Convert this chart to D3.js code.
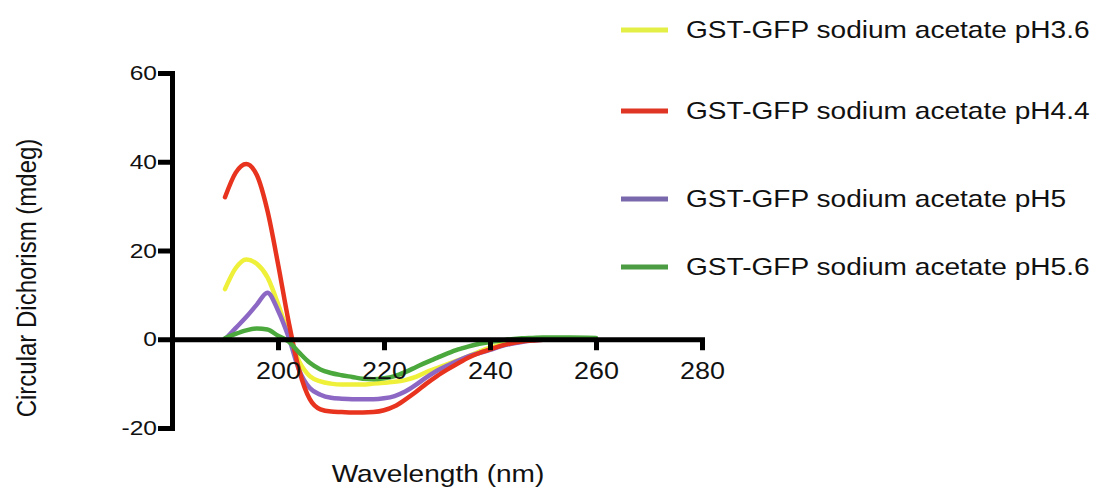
<!DOCTYPE html>
<html>
<head>
<meta charset="utf-8">
<script src="https://cdn.jsdelivr.net/npm/d3@7"></script>
<style>
  body { margin: 0; background: #fff; }
  text { font-family: "Liberation Sans", Arial, sans-serif; fill: #111; }
</style>
</head>
<body>
<div id="chart"></div>
<script>
// Wavelength samples (nm)
const wavelengths = [190, 192, 194, 196, 198, 200, 202, 204, 206, 208, 210, 212, 214, 216, 218, 220,
  222, 224, 226, 228, 230, 232, 234, 236, 238, 240, 242, 244, 246, 248, 250, 255, 260];

// CD values (mdeg)
const ph36 = [11.3, 16, 18, 17, 14, 8, 1, -5, -8.3, -9.5, -10, -10.2, -10.2, -10.2, -10, -9.8,
  -9.6, -9.2, -8.5, -7.4, -6.5, -5.6, -4.7, -3.8, -2.8, -1.9, -1.2, -0.7, -0.4, -0.2, 0, 0.1, 0.1];
const ph44 = [32, 37.5, 39.5, 37, 29, 17, 4, -7, -13.5, -15.8, -16.3, -16.4, -16.5, -16.5, -16.4, -16,
  -15.1, -13.6, -11.9, -10, -8.3, -6.8, -5.4, -4.1, -3.1, -2.3, -1.5, -0.9, -0.5, -0.3, -0.1, 0, 0.1];
const ph50 = [0, 2.5, 5, 7.8, 10.5, 6.5, 0.5, -7, -11, -12.5, -13.2, -13.4, -13.5, -13.5, -13.5, -13.3,
  -12.8, -11.8, -10.3, -8.6, -7.1, -5.9, -4.8, -3.8, -3.1, -2.4, -1.6, -1, -0.6, -0.3, -0.1, 0, 0.1];
const ph56 = [0.2, 1.2, 2, 2.4, 2.2, 0.8, -0.5, -3, -5.3, -6.8, -7.6, -8.1, -8.5, -8.9, -9, -8.8,
  -8.3, -7.4, -6.3, -5.2, -4.2, -3.2, -2.3, -1.6, -1, -0.6, -0.3, 0, 0.2, 0.3, 0.4, 0.4, 0.3];

const seriesNames = ["GST-GFP sodium acetate pH3.6", "GST-GFP sodium acetate pH4.4",
  "GST-GFP sodium acetate pH5", "GST-GFP sodium acetate pH5.6"];
const seriesValues = [ph36, ph44, ph50, ph56];
const xTicks = [200, 220, 240, 260, 280];
const yTicks = [-20, 0, 20, 40, 60];

const lineColors = ["#eef03a", "#e8341f", "#8c68c4", "#4aa83c"];
const legendColors = ["#e4ef45", "#df3524", "#7a68ac", "#4b9c42"];
const legendY = [30, 111, 199, 267];

const width = 1101, height = 489;
const stretch = 1.17; // glyphs in the picture are a bit wide

const svg = d3.select("#chart").append("svg")
  .attr("width", width)
  .attr("height", height);

const x = d3.scaleLinear().domain([180, 280]).range([172, 702]);
const y = d3.scaleLinear().domain([-20, 60]).range([428, 73]);

// Curves first so the axes sit on top like in the original
const line = d3.line()
  .x(d => x(d[0]))
  .y(d => y(d[1]))
  .curve(d3.curveMonotoneX);

const drawOrder = [0, 2, 1, 3];
drawOrder.forEach(i => {
  svg.append("path")
    .datum(wavelengths.map((w, j) => [w, seriesValues[i][j]]))
    .attr("fill", "none")
    .attr("stroke", lineColors[i])
    .attr("stroke-width", 4.5)
    .attr("stroke-linejoin", "round")
    .attr("stroke-linecap", "round")
    .attr("d", line);
});

// X axis through y = 0
const gx = svg.append("g")
  .attr("transform", "translate(0," + y(0) + ")")
  .call(d3.axisBottom(x).tickValues(xTicks).tickSize(11).tickSizeOuter(0).tickPadding(12)
    .tickFormat(d => String(d)));

// Y axis
const gy = svg.append("g")
  .attr("transform", "translate(" + x(180) + ",0)")
  .call(d3.axisLeft(y).tickValues(yTicks).tickSize(14).tickSizeOuter(0).tickPadding(1)
    .tickFormat(d => String(d)));

[gx, gy].forEach(g => {
  g.select(".domain").attr("stroke", "#000").attr("stroke-width", 5).attr("stroke-linecap", "square");
  g.selectAll(".tick line").attr("stroke", "#000").attr("stroke-width", 5);
  g.selectAll(".tick text").attr("fill", "#111").style("font-family", "Liberation Sans, Arial, sans-serif");
});

gx.selectAll(".tick text")
  .style("font-size", "23px")
  .attr("transform", "scale(" + stretch + ",1)");

gy.selectAll(".tick text")
  .style("font-size", "21px")
  .attr("x", 0)
  .attr("transform", "translate(-15,0) scale(" + stretch + ",1)");

// Axis titles
svg.append("text")
  .attr("transform", "translate(438,482) scale(" + stretch + ",1)")
  .attr("text-anchor", "middle")
  .style("font-size", "24px")
  .text("Wavelength (nm)");

svg.append("text")
  .attr("transform", "translate(36,278) rotate(-90) scale(1," + stretch + ")")
  .attr("text-anchor", "middle")
  .style("font-size", "24px")
  .text("Circular Dichorism (mdeg)");

// Legend
const legend = svg.append("g");
seriesNames.forEach((name, i) => {
  legend.append("line")
    .attr("x1", 621).attr("x2", 668)
    .attr("y1", legendY[i]).attr("y2", legendY[i])
    .attr("stroke", legendColors[i])
    .attr("stroke-width", 5);
  legend.append("text")
    .attr("transform", "translate(686," + (legendY[i] + 8) + ") scale(" + stretch + ",1)")
    .style("font-size", "24px")
    .text(name);
});
</script>
</body>
</html>
